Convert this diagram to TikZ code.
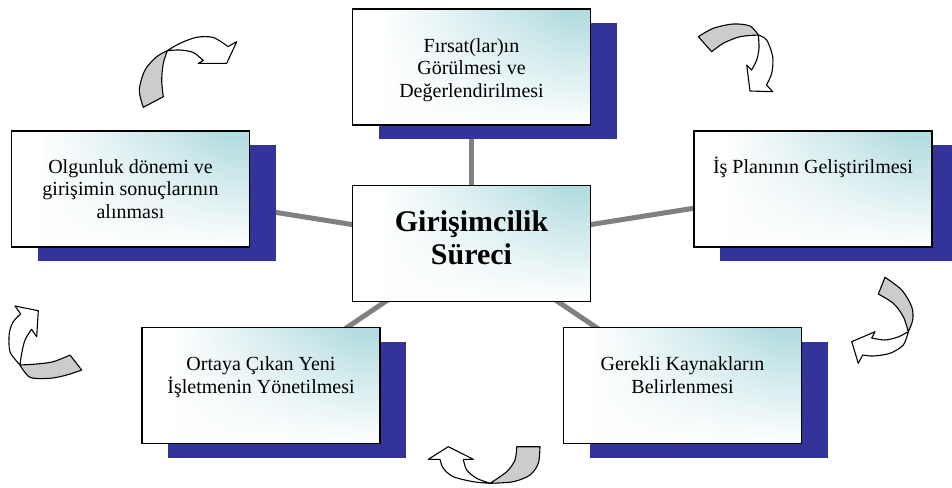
\documentclass[tikz,border=0pt]{standalone}
\usepackage{fontspec}
\setmainfont{Liberation Serif}
\usetikzlibrary{shadows,backgrounds,calc,fadings}
\definecolor{navy}{RGB}{51,51,153}
\definecolor{tealc}{RGB}{176,219,223}
\definecolor{conn}{RGB}{128,128,128}
\definecolor{grayface}{RGB}{204,204,204}
\pgfdeclarehorizontalshading{hshade}{100bp}{color(0bp)=(white); color(31bp)=(white); color(70bp)=(tealc); color(100bp)=(tealc)}
\tikzfading[name=whiteup, bottom color=transparent!0, middle color=transparent!65, top color=transparent!100]
\begin{document}
\begin{tikzpicture}[x=1pt,y=-1pt,
  box/.style={draw=black, line width=1.8pt, minimum width=238pt, minimum height=116pt, inner sep=0pt, fill=white,
    path picture={
      \shade[shading=hshade] (path picture bounding box.south west) rectangle (path picture bounding box.north east);
      \fill[white, path fading=whiteup] (path picture bounding box.south west) rectangle (path picture bounding box.north east);
    }},
  shadowbox/.style={box, general shadow={fill=navy, draw=none, shadow xshift=26pt, shadow yshift=-14pt}},
  txt/.style={font=\fontsize{20}{22.5}\selectfont, align=center, inner sep=0pt, anchor=base},
  bigtxt/.style={font=\fontsize{30}{33}\selectfont\bfseries, align=center, inner sep=0pt, anchor=base},
  link/.style={draw=conn, line width=5pt},
  face/.style={draw=black, line width=1.1pt, line join=round},
]
\useasboundingbox (0,0) rectangle (952,487);

% boxes
\node[shadowbox] (bt)  at (471.5,67)    {};
\node[shadowbox] (bl)  at (130.5,189.3) {};
\node[shadowbox] (br)  at (813,189.3)   {};
\node[shadowbox] (bbl) at (261,385.5)   {};
\node[shadowbox] (bbr) at (682.5,385.5) {};
\node[box]       (bc)  at (471.5,243.5) {};

% texts (anchor = baseline of the last line)
\node[txt] (tt) at ($(bt.north)+(0,89)$) {Fırsat(lar)ın\\Görülmesi ve\\Değerlendirilmesi};
\node[txt] (tl) at ($(bl.north)+(0,88)$) {Olgunluk dönemi ve\\girişimin sonuçlarının\\alınması};
\node[txt] (tr) at ($(br.north)+(0,43)$) {İş Planının Geliştirilmesi};
\node[txt] (tbl) at ($(bbl.north)+(0,66.5)$) {Ortaya Çıkan Yeni\\İşletmenin Yönetilmesi};
\node[txt] (tbr) at ($(bbr.north)+(0,66.5)$) {Gerekli Kaynakların\\Belirlenmesi};
\node[bigtxt] (tc) at ($(bc.north)+(0,80)$) {Girişimcilik\\Süreci};

% connectors
\begin{scope}[on background layer]
\draw[link] (bc.center) -- (bt.center);
\draw[link] (bc.center) -- (bl.center);
\draw[link] (bc.center) -- (br.center);
\draw[link] (bc.center) -- (bbl.center);
\draw[link] (bc.center) -- (bbr.center);
\end{scope}

% arrow 1 (top left)
\draw[face, fill=grayface] plot[smooth] coordinates {(143.3,107.3) (139.3,90) (145,70) (156.7,56.7) (167.3,50.7)}
  -- plot[smooth] coordinates {(167.3,50.7) (163.3,63.3) (161.7,80) (163.3,96.7)} -- cycle;
\draw[face, fill=white] plot[smooth] coordinates {(167.3,50.7) (180,43.3) (196.7,37.3) (213.3,37.5) (228,46.6)}
  -- (236.7,41.7) -- (226.7,63.3) -- (198.3,63.3) -- (203.3,60.5)
  -- plot[smooth] coordinates {(203.3,60.5) (193.3,52.5) (180,50) (167.3,50.7)} -- cycle;

% arrow 2 (top right)
\draw[face, fill=grayface] plot[smooth] coordinates {(698.3,36.7) (713.3,28.3) (733.3,24) (750,26) (758.3,35)}
  -- plot[smooth] coordinates {(758.3,35) (740,36.7) (723.3,43.3) (711.7,51.7)} -- cycle;
\draw[face, fill=white] plot[smooth] coordinates {(758.3,35) (766.7,40) (772.7,56.7) (771.7,73.3) (766.5,85)}
  -- (772.7,91.7) -- (750,91) -- (746.7,65) -- (751.6,70)
  -- plot[smooth] coordinates {(751.6,70) (756.7,60) (759,48) (758.3,35)} -- cycle;

% arrow 3 (right)
\draw[face, fill=grayface] plot[smooth] coordinates {(885,277.3) (901.7,290) (911.7,306.7) (912.7,320) (908.3,331.7)}
  -- plot[smooth] coordinates {(908.3,331.7) (903.3,316.7) (893.3,303.3) (878.3,294)} -- cycle;
\draw[face, fill=white] plot[smooth] coordinates {(908.3,331.7) (903.3,345) (890,353.3) (873.3,356) (862.7,355)}
  -- (858.3,363.3) -- (851.7,341.7) -- (875,331.7) -- (871.7,338)
  -- plot[smooth] coordinates {(871.7,338) (885,340) (898,337) (908.3,331.7)} -- cycle;

% arrow 4 (bottom)
\draw[face, fill=grayface] plot[smooth] coordinates {(540,446.7) (538.3,463.3) (530,475) (513.3,481.7) (490,483.3)}
  -- plot[smooth] coordinates {(490,483.3) (506.7,471.7) (515,460) (516.7,446.7)} -- cycle;
\draw[face, fill=white] plot[smooth] coordinates {(490,483.3) (473.3,481.7) (453.3,476.7) (443.3,468.3) (440,459.3)}
  -- (428.3,459.3) -- (448.3,446.7) -- (473.3,459.3) -- (463.3,459.3)
  -- plot[smooth] coordinates {(463.3,459.3) (466.7,470) (476.7,478.3) (490,483.3)} -- cycle;

% arrow 5 (left)
\draw[face, fill=grayface] plot[smooth] coordinates {(20,365) (30,377.3) (50,378.3) (66.7,375) (81.7,370)}
  -- plot[smooth] coordinates {(70,355) (53.3,361.7) (36.7,364) (20,365)} -- cycle;
\draw[face, fill=white] plot[smooth] coordinates {(20,365) (10,351.7) (9.3,333.3) (13.3,321.7) (20.7,314)}
  -- (15,306) -- (38.3,310.7) -- (36.7,336.7) -- (31.5,329.3)
  -- plot[smooth] coordinates {(31.5,329.3) (25,340) (21.7,353.3) (20,365)} -- cycle;
\end{tikzpicture}
\end{document}
